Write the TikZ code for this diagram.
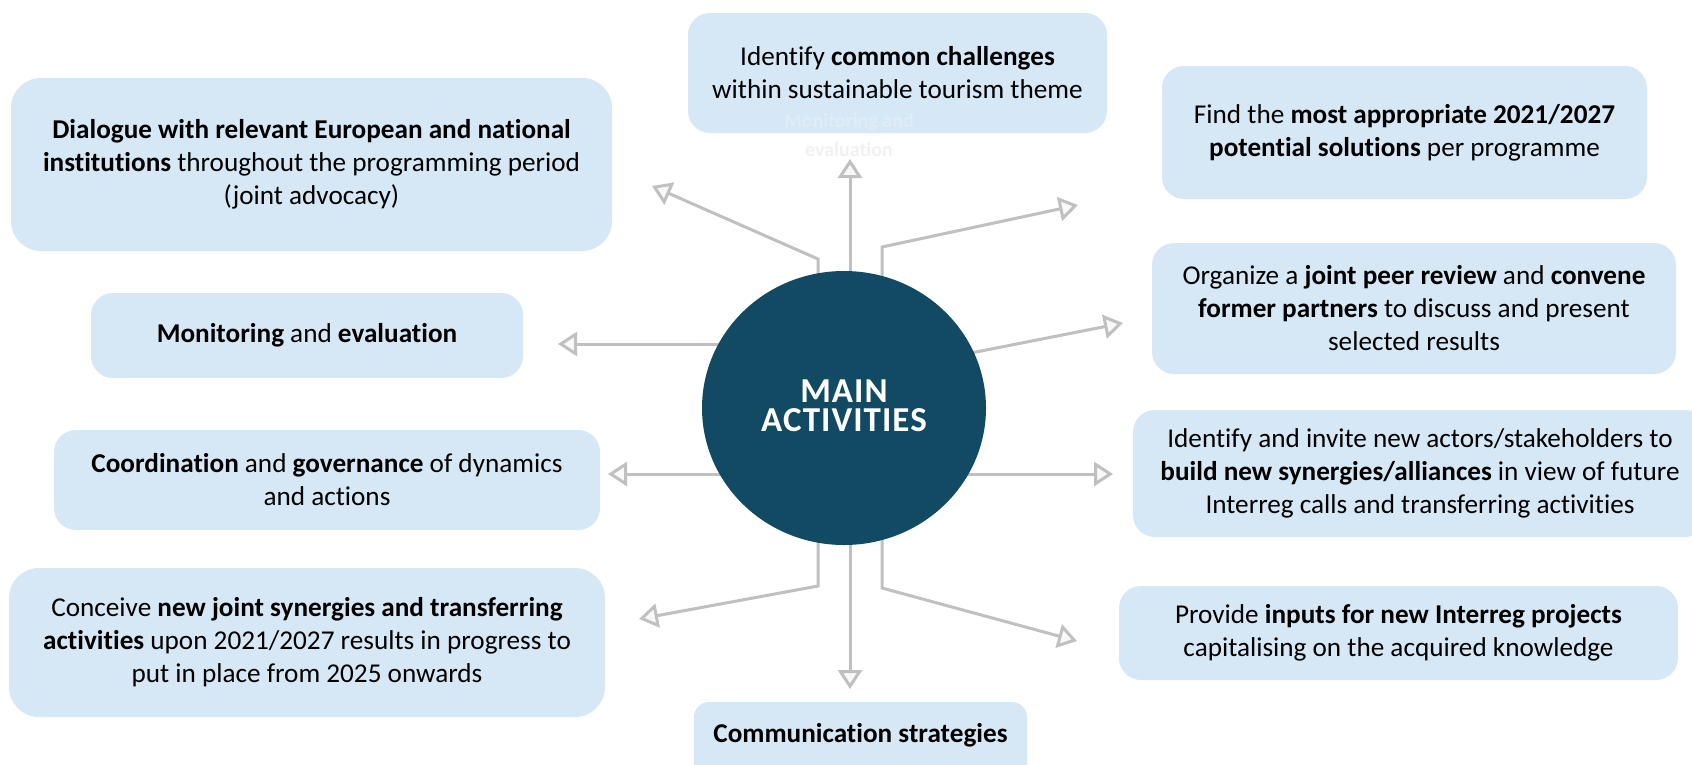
\documentclass[tikz,border=0pt]{standalone}
\usepackage{fontspec}
\setmainfont{Carlito}[Ligatures=NoCommon]
\usetikzlibrary{arrows.meta,shapes.geometric}
\pgfdeclarelayer{back}
\pgfdeclarelayer{lines}
\pgfsetlayers{back,lines,main}
\definecolor{boxblue}{HTML}{D6E8F6}
\definecolor{hubcol}{HTML}{124A63}
\definecolor{arrowgray}{HTML}{C0C0C0}
\definecolor{tipfill}{HTML}{F8F8F8}
\definecolor{ghostA}{HTML}{E0EDF8}
\definecolor{ghostB}{HTML}{F1F1F1}
\begin{document}
\begin{tikzpicture}[x=1pt,y=-1pt,
  panel/.style={fill=boxblue, draw=none, rounded corners=22pt, inner sep=0pt,
    align=center, font=\fontsize{27.2}{33}\selectfont},
  bigpanel/.style={panel, rounded corners=30pt},
  conn/.style={draw=arrowgray, line width=3pt,
    -{Triangle[length=19pt,width=24pt,fill=tipfill]}},
  plaintext/.style={align=center, inner sep=0pt, font=\fontsize{27.2}{33}\selectfont}
]
\useasboundingbox (0,0) rectangle (1692,764);
\begin{pgfonlayer}{back}
\fill[white] (0,0) rectangle (1692,764);
\end{pgfonlayer}
\clip (0,0) rectangle (1692,764);

% hub
\node[ellipse, fill=hubcol, minimum width=284pt, minimum height=274pt, inner sep=0pt,
      text=white, align=center, font=\fontsize{35}{28.5}\selectfont\bfseries\addfontfeature{LetterSpace=3}] (hub) at (844,408)
  {\raisebox{5pt}{MAIN}\\\raisebox{5pt}{ACTIVITIES}};

% boxes
\node[panel, minimum width=419pt, minimum height=120pt] (chall) at (897.5,73)
  {Identify \textbf{common challenges}\\within sustainable tourism theme};
\node[align=center, inner sep=0pt, font=\fontsize{20}{29}\selectfont\bfseries] (ghostT) at (849,135)
  {\textcolor{ghostA}{Monitoring and}\\\textcolor{ghostB}{evaluation}};
\node[panel, minimum width=485pt, minimum height=133pt] (find) at (1404.5,132.5)
  {Find the \textbf{most appropriate 2021/2027}\\\textbf{potential solutions} per programme};
\node[bigpanel, minimum width=601pt, minimum height=173pt] (dial) at (311.5,164.5)
  {\textbf{Dialogue with relevant European and national}\\\textbf{institutions} throughout the programming period\\(joint advocacy)};
\node[panel, minimum width=432pt, minimum height=85pt] (moni) at (307,335.5)
  {\textbf{Monitoring} and \textbf{evaluation}};
\node[panel, minimum width=546pt, minimum height=100pt] (coord) at (327,480)
  {\textbf{Coordination} and \textbf{governance} of dynamics\\and actions};
\node[bigpanel, minimum width=596pt, minimum height=149pt] (conc) at (307,642.5)
  {Conceive \textbf{new joint synergies and transferring}\\\textbf{activities} upon 2021/2027 results in progress to\\put in place from 2025 onwards};
\node[panel, minimum width=333pt, minimum height=84pt, rounded corners=15pt] (comm) at (860.5,744) {};
\node[plaintext, anchor=base] (commT) at (860.5,742) {\textbf{Communication strategies}};
\node[panel, minimum width=524pt, minimum height=131pt] (org) at (1414,308.5)
  {Organize a \textbf{joint peer review} and \textbf{convene}\\\textbf{former partners} to discuss and present\\selected results};
\node[panel, minimum width=574pt, minimum height=127pt] (inv) at (1420,473.5)
  {Identify and invite new actors/stakeholders to\\\textbf{build new synergies/alliances} in view of future\\Interreg calls and transferring activities};
\node[panel, minimum width=559pt, minimum height=94pt] (prov) at (1398.5,633)
  {Provide \textbf{inputs for new Interreg projects}\\capitalising on the acquired knowledge};

% connector points
\coordinate (tN) at (850,159);
\coordinate (eNW) at (818,259);
\coordinate (tNW) at (652,186);
\coordinate (eNE) at (882,247);
\coordinate (tNE) at (1078,205);
\coordinate (tW1) at (558,344);
\coordinate (tW2) at (608,474);
\coordinate (sE1) at (900,367);
\coordinate (tE1) at (1123,323);
\coordinate (tE2) at (1113,474);
\coordinate (eSW) at (818,586);
\coordinate (tSW) at (639,619);
\coordinate (tS) at (850,689);
\coordinate (eSE) at (882,588);
\coordinate (tSE) at (1077,641);

\begin{pgfonlayer}{lines}
\draw[conn] (hub.center -| tN) -- (tN);
\draw[conn] (hub.center -| eNW) -- (eNW) -- (tNW);
\draw[conn] (hub.center -| eNE) -- (eNE) -- (tNE);
\draw[conn] (hub.center |- tW1) -- (tW1);
\draw[conn] (hub.center |- tW2) -- (tW2);
\draw[conn] (sE1) -- (tE1);
\draw[conn] (hub.center |- tE2) -- (tE2);
\draw[conn] (hub.center -| eSW) -- (eSW) -- (tSW);
\draw[conn] (hub.center -| tS) -- (tS);
\draw[conn] (hub.center -| eSE) -- (eSE) -- (tSE);
\end{pgfonlayer}
\end{tikzpicture}
\end{document}
